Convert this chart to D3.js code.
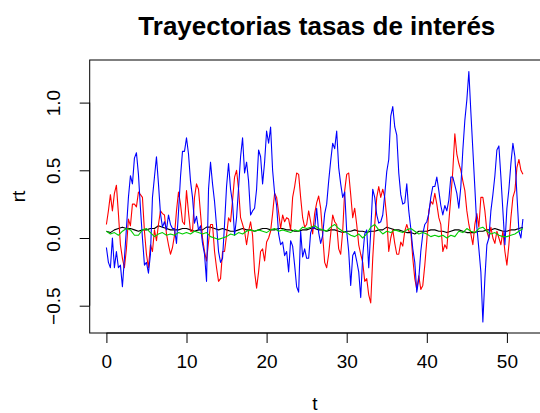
<!DOCTYPE html>
<html>
<head>
<meta charset="utf-8">
<script src="https://cdn.jsdelivr.net/npm/d3@7"></script>
<style>
  body { margin: 0; background: #fff; }
  text { font-family: "Liberation Sans", Arial, Helvetica, sans-serif; }
</style>
</head>
<body>
<div id="chart"></div>
<script>
var stepFine = 0.25;
var stepCoarse = 0.5;

var redRates = [
  0.1, 0.2, 0.32, 0.2,   0.33, 0.39, 0.18, -0.05,   -0.15, -0.22, -0.08, 0.14,
  0.09, 0.25, 0.25, 0.23,   0.34, 0.32, 0.3, 0.05,   -0.12, -0.22, -0.05, -0.1,
  0.06, -0.02, 0.1, 0.2,   0.18, 0.17, 0.03, -0.05,   -0.12, -0.07, 0.02, 0.2,
  0.34, 0.25, 0.12, 0.1,   0.35, 0.19, 0.05, 0.05,   0.3, 0.4, 0.36, 0.18,
  0.0, -0.1, -0.17, -0.03,   0.1, 0.1, -0.1, -0.22,   -0.32, -0.3, -0.1, -0.1,
  0.02, 0.15, 0.12, 0.28,   0.45, 0.5, 0.36, 0.15,   0.1, 0.05, -0.05, 0.05,
  0.12, 0.02, -0.25, -0.37,   -0.25, -0.1, -0.08, -0.17,   -0.03, 0.0, 0.05, 0.18,
  0.33, 0.3, 0.19, 0.07,   0.17, 0.12, 0.15, 0.14,   0.06, 0.3, 0.38, 0.48,
  0.47, 0.3, 0.15, 0.08,   0.1, 0.2, 0.12, 0.03,   0.18, 0.26, 0.31, 0.22,
  0.02, -0.18, -0.22, -0.12,   0.03, 0.17, 0.12, 0.1,   -0.08, -0.12, 0.05, 0.35,
  0.47, 0.48, 0.32, 0.15,   0.22, 0.1, -0.05, -0.12,   -0.18, -0.32, -0.3, -0.42,
  -0.48, -0.15, 0.1, 0.3,   0.38, 0.3, 0.36, 0.3,   0.15, -0.1, 0.0, 0.06,
  -0.04, -0.12, -0.12, -0.03,   -0.06, 0.05, 0.1, 0.05,   0.05, -0.15, -0.3, -0.38,
  -0.28, -0.38, -0.35, -0.2,   -0.02, 0.2, 0.27, 0.25,   0.33, 0.25, 0.15, 0.1,
  -0.1, -0.05, -0.08, 0.12,   0.3, 0.5, 0.77, 0.62,   0.55, 0.5, 0.42, 0.35,
  0.2, 0.1, 0.03, -0.05,   0.1, 0.18, 0.08, 0.3,   0.3, 0.2, 0.05, 0.0,
  0.08, 0.0, -0.04, 0.05,   0.0, -0.05, 0.05, -0.1,   -0.2, -0.05, 0.15, 0.3,
  0.35, 0.52, 0.58, 0.5,   0.47
];

var blueRates = [
  -0.07, -0.18, -0.22, 0.0,   -0.22, -0.1, -0.22, -0.2,   -0.36, -0.15, 0.07, 0.3,
  0.46, 0.4, 0.59, 0.63,   0.47, 0.22, 0.0, -0.2,   -0.18, -0.26, -0.12, 0.3,
  0.45, 0.6, 0.4, 0.18,   0.08, 0.12, 0.06, 0.17,   0.1, 0.07, 0.07, -0.04,
  0.19, 0.45, 0.64, 0.64,   0.74, 0.62, 0.42, 0.3,   0.11, 0.16, 0.06, 0.09,
  -0.04, -0.12, -0.32, 0.36,   0.56, 0.4, 0.27, 0.09,   -0.1, -0.18, -0.15, 0.1,
  0.38, 0.55, 0.36, 0.26,   0.02, 0.15, 0.37, 0.6,   0.74, 0.48, 0.56, 0.42,
  0.17, 0.2, 0.22, 0.36,   0.65, 0.6, 0.4, 0.56,   0.79, 0.7, 0.82, 0.5,
  0.33, 0.24, 0.03, -0.05,   -0.03, -0.13, -0.1, -0.25,   -0.02, -0.06, -0.2, -0.36,
  -0.4, 0.05, -0.14, -0.08,   -0.15, -0.15, 0.04, 0.08,   0.07, 0.22, 0.04, -0.04,
  0.02, 0.18, 0.25, 0.42,   0.57, 0.7, 0.66, 0.79,   0.52, 0.4, 0.3, 0.34,
  0.05, -0.1, -0.35, -0.13,   -0.1, -0.17, -0.25, -0.44,   -0.13, 0.03, 0.06, -0.22,
  0.05, 0.36, 0.3, 0.17,   0.11, 0.12, 0.17, 0.32,   0.49, 0.58, 0.9, 0.97,
  0.82, 0.76, 0.48, 0.32,   0.25, 0.26, 0.4, 0.2,   0.07, -0.08, -0.18, -0.4,
  -0.3, -0.1, 0.03, 0.1,   0.12, 0.18, 0.3, 0.38,   0.38, 0.45, 0.35, 0.24,
  0.17, 0.24, 0.2, 0.28,   0.45, 0.45, 0.39, 0.33,   0.22, 0.38, 0.65, 0.87,
  1.02, 1.23, 0.93, 0.65,   0.37, 0.08, -0.08, -0.25,   -0.62, -0.3, -0.05, 0.0,
  0.2, 0.32, 0.46, 0.65,   0.68, 0.45, 0.2, -0.05,   0.22, 0.36, 0.55, 0.7,
  0.6, 0.32, 0.05, 0.0,   0.14
];

var blackRates = [
  0.05, 0.04, 0.06, 0.07, 0.08, 0.07, 0.07, 0.06, 0.05, 0.06,
  0.06, 0.07, 0.07, 0.09, 0.08, 0.07, 0.06, 0.06, 0.06, 0.07,
  0.07, 0.06, 0.05, 0.06, 0.06, 0.08, 0.08, 0.07, 0.06, 0.07,
  0.06, 0.05, 0.05, 0.06, 0.07, 0.06, 0.06, 0.05, 0.06, 0.07,
  0.07, 0.06, 0.06, 0.07, 0.07, 0.06, 0.06, 0.05, 0.05, 0.06,
  0.06, 0.07, 0.07, 0.06, 0.06, 0.05, 0.06, 0.06, 0.05, 0.04,
  0.05, 0.05, 0.06, 0.05, 0.05, 0.04, 0.05, 0.05, 0.06, 0.06,
  0.08, 0.07, 0.06, 0.06, 0.05, 0.04, 0.04, 0.03, 0.05, 0.05,
  0.05, 0.06, 0.06, 0.05, 0.05, 0.04, 0.05, 0.06, 0.06, 0.05,
  0.04, 0.04, 0.04, 0.05, 0.05, 0.06, 0.06, 0.07, 0.06, 0.05,
  0.05, 0.06, 0.06, 0.07, 0.08
];

var greenRates = [
  0.05, 0.03, 0.04, 0.02, 0.05, 0.07, 0.06, 0.02, 0.02, 0.06,
  0.07, 0.04, 0.01, 0.03, 0.04, 0.02, 0.03, 0.02, 0.04, 0.03,
  0.04, 0.03, 0.05, 0.04, 0.03, 0.04, 0.01, 0.0, -0.01, 0.0,
  0.01, 0.03, 0.02, 0.04, 0.03, 0.05, 0.06, 0.05, 0.06, 0.05,
  0.04, 0.06, 0.07, 0.05, 0.06, 0.05, 0.04, 0.06, 0.05, 0.08,
  0.07, 0.08, 0.09, 0.07, 0.06, 0.05, 0.08, 0.1, 0.07, 0.05,
  0.04, 0.02, 0.01, 0.03, 0.0, 0.03, 0.08, 0.1, 0.06, 0.03,
  0.05, 0.04, 0.06, 0.05, 0.04, 0.06, 0.07, 0.05, 0.03, 0.04,
  0.03, 0.01, 0.02, 0.01, 0.02, 0.0, 0.02, 0.01, 0.05, 0.04,
  0.07, 0.05, 0.04, 0.07, 0.08, 0.05, 0.03, 0.04, 0.02, 0.01,
  0.01, 0.02, 0.03, 0.05, 0.07
];

var xTicks = [0, 10, 20, 30, 40, 50];
var yTicks = [-0.5, 0.0, 0.5, 1.0];

// svg size
var svgWidth = 540;
var svgHeight = 413;

// plot region (the right edge of the R box falls just outside the picture)
var box = { left: 89.7, top: 60, bottom: 333, right: 541 };

var svg = d3.select("#chart")
  .append("svg")
  .attr("width", svgWidth)
  .attr("height", svgHeight);

// scales
var xScale = d3.scaleLinear().domain([0, 50]).range([106.4, 506.9]);
var yScale = d3.scaleLinear().domain([0, 1]).range([238, 102.6]);

// clip to the plot region like R does
svg.append("clipPath").attr("id", "plotClip")
  .append("rect")
  .attr("x", box.left).attr("y", box.top)
  .attr("width", box.right - box.left).attr("height", box.bottom - box.top);

var lineGroup = svg.append("g").attr("clip-path", "url(#plotClip)");

function drawPath(values, step, colour) {
  var line = d3.line()
    .x(function(d, i) { return xScale(i * step); })
    .y(function(d) { return yScale(d); });
  lineGroup.append("path")
    .datum(values)
    .attr("d", line)
    .attr("fill", "none")
    .attr("stroke", colour)
    .attr("stroke-width", 1.1)
    .attr("stroke-linejoin", "round");
}

// same order as plot() then lines()
drawPath(blackRates, stepCoarse, "#000000");
drawPath(redRates, stepFine, "#ff0000");
drawPath(blueRates, stepFine, "#0000ff");
drawPath(greenRates, stepCoarse, "#00cd00");

// box
svg.append("rect")
  .attr("x", box.left).attr("y", box.top)
  .attr("width", box.right - box.left).attr("height", box.bottom - box.top)
  .attr("fill", "none")
  .attr("stroke", "#000")
  .attr("stroke-width", 1);

// x axis
var bottomAxis = d3.axisBottom(xScale)
  .tickValues(xTicks)
  .tickSize(10)
  .tickPadding(12)
  .tickFormat(d3.format("d"));

var xAxis = svg.append("g")
  .attr("transform", "translate(0," + box.bottom + ")")
  .call(bottomAxis);
xAxis.select(".domain").remove();
xAxis.append("line")
  .attr("x1", xScale(0)).attr("x2", xScale(50))
  .attr("stroke", "#000");
xAxis.selectAll("text")
  .attr("fill", "#000")
  .style("font-size", "19px")
  .style("font-family", "'Liberation Sans', Arial, sans-serif");

// y axis with rotated labels
var leftAxis = d3.axisLeft(yScale)
  .tickValues(yTicks)
  .tickSize(10)
  .tickFormat(d3.format(".1f"));

var yAxis = svg.append("g")
  .attr("transform", "translate(" + box.left + ",0)")
  .call(leftAxis);
yAxis.select(".domain").remove();
yAxis.append("line")
  .attr("y1", yScale(-0.5)).attr("y2", yScale(1.0))
  .attr("stroke", "#000");
yAxis.selectAll(".tick text")
  .attr("transform", "rotate(-90)")
  .attr("x", 0)
  .attr("y", -29.5)
  .attr("dy", 0)
  .attr("text-anchor", "middle")
  .attr("fill", "#000")
  .style("font-size", "19px")
  .style("font-family", "'Liberation Sans', Arial, sans-serif");

// titles
var plotCentre = (box.left + 540) / 2;

svg.append("text")
  .attr("x", plotCentre + 2)
  .attr("y", 35)
  .attr("text-anchor", "middle")
  .style("font-size", "26px")
  .style("font-weight", "bold")
  .text("Trayectorias tasas de interés");

svg.append("text")
  .attr("x", plotCentre)
  .attr("y", 410)
  .attr("text-anchor", "middle")
  .style("font-size", "19px")
  .text("t");

svg.append("text")
  .attr("transform", "translate(25," + ((box.top + box.bottom) / 2) + ") rotate(-90)")
  .attr("text-anchor", "middle")
  .style("font-size", "19px")
  .text("rt");
</script>
</body>
</html>
